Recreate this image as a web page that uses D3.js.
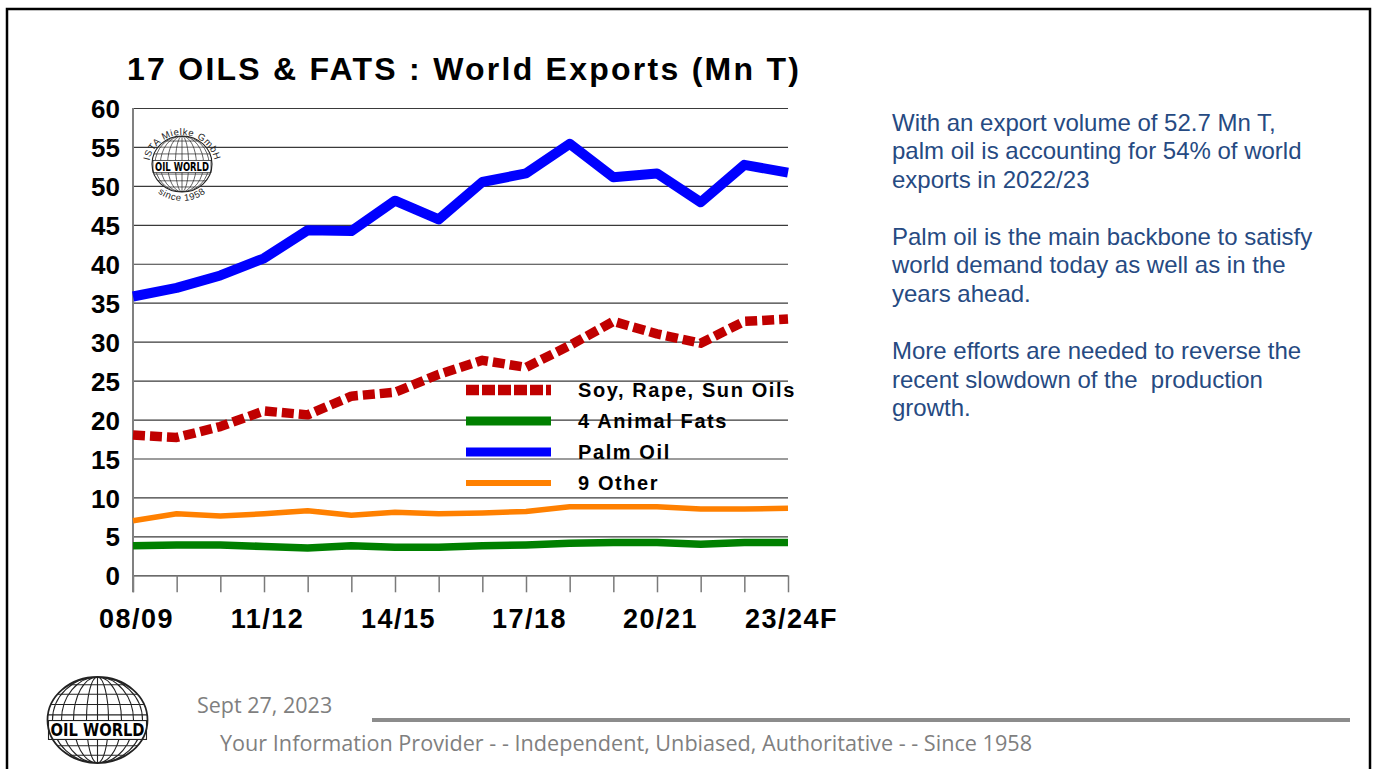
<!DOCTYPE html>
<meta charset="utf-8">
<title>17 Oils & Fats : World Exports</title>
<style>
body { margin: 0; background: #fff; }
svg { display: block; }
text { font-family: Arial, "Liberation Sans", sans-serif; }
</style>
<svg width="1377" height="769"></svg>
<script src="https://d3js.org/d3.v7.min.js"></script>
<script>
// seasons on the x axis, only every third one gets a label
const seasons = ["08/09","09/10","10/11","11/12","12/13","13/14","14/15","15/16",
  "16/17","17/18","18/19","19/20","20/21","21/22","22/23","23/24F"];
const labelledSeasons = ["08/09","11/12","14/15","17/18","20/21","23/24F"];
const yTicks = [0,5,10,15,20,25,30,35,40,45,50,55,60];

// world exports, Mn T
const soyRapeSun = [18.0,17.7,19.1,21.1,20.6,23.0,23.5,25.8,27.6,26.7,29.5,32.6,31.0,29.8,32.6,32.9];
const animalFats = [3.8,3.9,3.9,3.7,3.5,3.8,3.6,3.6,3.8,3.9,4.1,4.2,4.2,4.0,4.2,4.2];
const palmOil    = [35.8,36.9,38.5,40.7,44.3,44.2,48.1,45.7,50.5,51.6,55.4,51.1,51.6,47.9,52.7,51.7];
const otherNine  = [7.0,7.9,7.6,7.9,8.3,7.7,8.1,7.9,8.0,8.2,8.8,8.8,8.8,8.5,8.5,8.6];

const seriesNames = ["Soy, Rape, Sun Oils", "4 Animal Fats", "Palm Oil", "9 Other"];

const noteLines = [
  ["With an export volume of 52.7 Mn T,", "palm oil is accounting for 54% of world", "exports in 2022/23"],
  ["Palm oil is the main backbone to satisfy", "world demand today as well as in the", "years ahead."],
  ["More efforts are needed to reverse the", "recent slowdown of the  production", "growth."]
];

const svg = d3.select("svg");

// slide frame
svg.append("rect")
  .attr("x", 7).attr("y", 9).attr("width", 1363).attr("height", 820)
  .attr("fill", "none").attr("stroke", "#000").attr("stroke-width", 2.5);

const plotLeft = 133, plotRight = 788, plotTop = 108, plotBottom = 575.3;

const x = d3.scalePoint().domain(seasons).range([plotLeft, plotRight]);
const y = d3.scaleLinear().domain([0, 60]).range([plotBottom, plotTop]);

// title
svg.append("text")
  .attr("x", 127).attr("y", 80)
  .attr("font-size", 32).attr("font-weight", "bold")
  .attr("letter-spacing", "2.25px")
  .text("17 OILS & FATS : World Exports (Mn T)");

// y axis with grid lines
const yAxis = svg.append("g")
  .attr("transform", `translate(${plotLeft},0)`)
  .call(d3.axisLeft(y).tickValues(yTicks).tickSize(-(plotRight - plotLeft)).tickPadding(13));
yAxis.select(".domain").remove();
yAxis.selectAll(".tick line").attr("stroke", "#3a3a3a").attr("stroke-width", 1.2);
yAxis.selectAll(".tick text")
  .attr("font-size", 26).attr("font-weight", "bold").attr("fill", "#000")
  .attr("font-family", "Arial, 'Liberation Sans', sans-serif")
  .attr("dy", "0.37em");

// chart logo (drawn before the series so the lines go over it)
drawGlobe(svg.append("g"), 182, 164, 30, 28, 2.5, true);

// x axis ticks and labels
const xAxis = svg.append("g")
  .attr("transform", `translate(0,${plotBottom})`)
  .call(d3.axisBottom(x).tickSize(17)
    .tickFormat(d => labelledSeasons.includes(d) ? d : ""));
xAxis.select(".domain").remove();
xAxis.selectAll(".tick line").attr("stroke", "#7a7a7a").attr("stroke-width", 1.5);
xAxis.selectAll(".tick text")
  .attr("font-size", 27).attr("font-weight", "bold").attr("fill", "#000")
  .attr("font-family", "Arial, 'Liberation Sans', sans-serif")
  .attr("letter-spacing", "1.5px")
  .attr("x", 3)
  .attr("y", 53).attr("dy", 0);

// vertical axis line
svg.append("line")
  .attr("x1", plotLeft).attr("x2", plotLeft).attr("y1", plotTop).attr("y2", plotBottom + 17)
  .attr("stroke", "#808080").attr("stroke-width", 2);

const styles = [
  { color: "#c00000", width: 9.5, dash: "12,5" },
  { color: "#008000", width: 7.5, dash: null },
  { color: "#0000ff", width: 10, dash: null },
  { color: "#ff8000", width: 5.5, dash: null }
];
const series = [soyRapeSun, animalFats, palmOil, otherNine];

const line = d3.line()
  .x((d, i) => x(seasons[i]))
  .y(d => y(d));

// draw order: other, animal fats, soy, palm
[3, 1, 0, 2].forEach(k => {
  svg.append("path")
    .datum(series[k])
    .attr("d", line)
    .attr("fill", "none")
    .attr("stroke", styles[k].color)
    .attr("stroke-width", styles[k].width)
    .attr("stroke-linejoin", "round")
    .attr("stroke-dasharray", styles[k].dash);
});

// legend
const legend = svg.append("g");
seriesNames.forEach((name, k) => {
  const ly = 390 + k * 31;
  legend.append("line")
    .attr("x1", 466).attr("x2", 551).attr("y1", ly).attr("y2", ly)
    .attr("stroke", styles[k].color)
    .attr("stroke-width", k === 0 ? 10.5 : (k === 3 ? 6 : 9))
    .attr("stroke-dasharray", k === 0 ? "13,3" : null);
  legend.append("text")
    .attr("x", 578).attr("y", ly + 7)
    .attr("font-size", 20).attr("font-weight", "bold")
    .attr("letter-spacing", "1.6px")
    .text(name);
});

// note on the right
const note = svg.append("g").attr("fill", "#264a82").attr("font-size", 24);
noteLines.forEach((para, p) => {
  para.forEach((t, j) => {
    note.append("text")
      .attr("x", 892)
      .attr("y", 130.5 + p * 114.25 + j * 28.5)
      .attr("xml:space", "preserve")
      .text(t);
  });
});

// footer
drawGlobe(svg.append("g"), 97.5, 720, 50, 43, 10, false);
svg.append("text")
  .attr("x", 197).attr("y", 713)
  .attr("font-size", 21.5).attr("fill", "#7f7f7f")
  .style("font-family", "'Open Sans', sans-serif")
  .text("Sept 27, 2023");
svg.append("line")
  .attr("x1", 372).attr("x2", 1350).attr("y1", 720).attr("y2", 720)
  .attr("stroke", "#8c8c8c").attr("stroke-width", 4);
svg.append("text")
  .attr("x", 220).attr("y", 751)
  .attr("font-size", 21).attr("fill", "#7f7f7f")
  .style("font-family", "'Open Sans', sans-serif")
  .attr("textLength", 812).attr("lengthAdjust", "spacingAndGlyphs")
  .text("Your Information Provider - - Independent, Unbiased, Authoritative - - Since 1958");

function drawGlobe(g, cx, cy, rx, ry, bandOffset, small) {
  const id = "clip" + Math.round(cx) + "_" + Math.round(cy);
  g.append("clipPath").attr("id", id)
    .append("ellipse").attr("cx", cx).attr("cy", cy).attr("rx", rx).attr("ry", ry);
  const sw = small ? 0.7 : 1.1;
  g.append("ellipse").attr("cx", cx).attr("cy", cy).attr("rx", rx).attr("ry", ry)
    .attr("fill", "#fff");
  const inner = g.append("g").attr("clip-path", `url(#${id})`)
    .attr("stroke", "#222").attr("fill", "none").attr("stroke-width", sw);
  [0.22, 0.48, 0.72, 0.9].forEach(k => {
    inner.append("ellipse").attr("cx", cx).attr("cy", cy).attr("rx", rx * k).attr("ry", ry);
  });
  inner.append("line").attr("x1", cx).attr("x2", cx).attr("y1", cy - ry).attr("y2", cy + ry);
  [-0.82, -0.6, -0.36, -0.12, 0.12, 0.36, 0.6, 0.82].forEach(k => {
    inner.append("line")
      .attr("x1", cx - rx).attr("x2", cx + rx)
      .attr("y1", cy + k * ry).attr("y2", cy + k * ry);
  });
  const bh = ry * 0.44;
  g.append("rect")
    .attr("x", cx - rx + 1).attr("y", cy + bandOffset - bh / 2)
    .attr("width", 2 * rx - 2).attr("height", bh)
    .attr("fill", "#fff").attr("stroke", "#222").attr("stroke-width", sw);
  g.append("text")
    .attr("x", cx - rx + 3).attr("y", cy + bandOffset + bh * 0.33)
    .attr("font-size", bh * 0.95).attr("font-weight", "bold")
    .attr("textLength", 2 * rx - 6).attr("lengthAdjust", "spacingAndGlyphs")
    .style("font-family", "'DejaVu Sans', sans-serif")
    .text("OIL WORLD");
  g.append("ellipse").attr("cx", cx).attr("cy", cy).attr("rx", rx).attr("ry", ry)
    .attr("fill", "none").attr("stroke", "#222").attr("stroke-width", sw * 1.6);
  if (small) {
    g.append("path").attr("id", "arcTop")
      .attr("d", `M${cx - rx - 3},${cy + 2} A${rx + 3},${ry + 3} 0 0 1 ${cx + rx + 3},${cy + 2}`)
      .attr("fill", "none");
    g.append("text").attr("font-size", 9.5).attr("fill", "#222")
      .attr("letter-spacing", "0.6px")
      .append("textPath").attr("href", "#arcTop").attr("startOffset", "50%")
      .attr("text-anchor", "middle").text("ISTA Mielke GmbH");
    g.append("path").attr("id", "arcBottom")
      .attr("d", `M${cx - rx - 8},${cy} A${rx + 8},${ry + 9} 0 0 0 ${cx + rx + 8},${cy}`)
      .attr("fill", "none");
    g.append("text").attr("font-size", 9.5).attr("fill", "#222")
      .attr("letter-spacing", "0.6px")
      .append("textPath").attr("href", "#arcBottom").attr("startOffset", "50%")
      .attr("text-anchor", "middle").text("since 1958");
  }
}
</script>
